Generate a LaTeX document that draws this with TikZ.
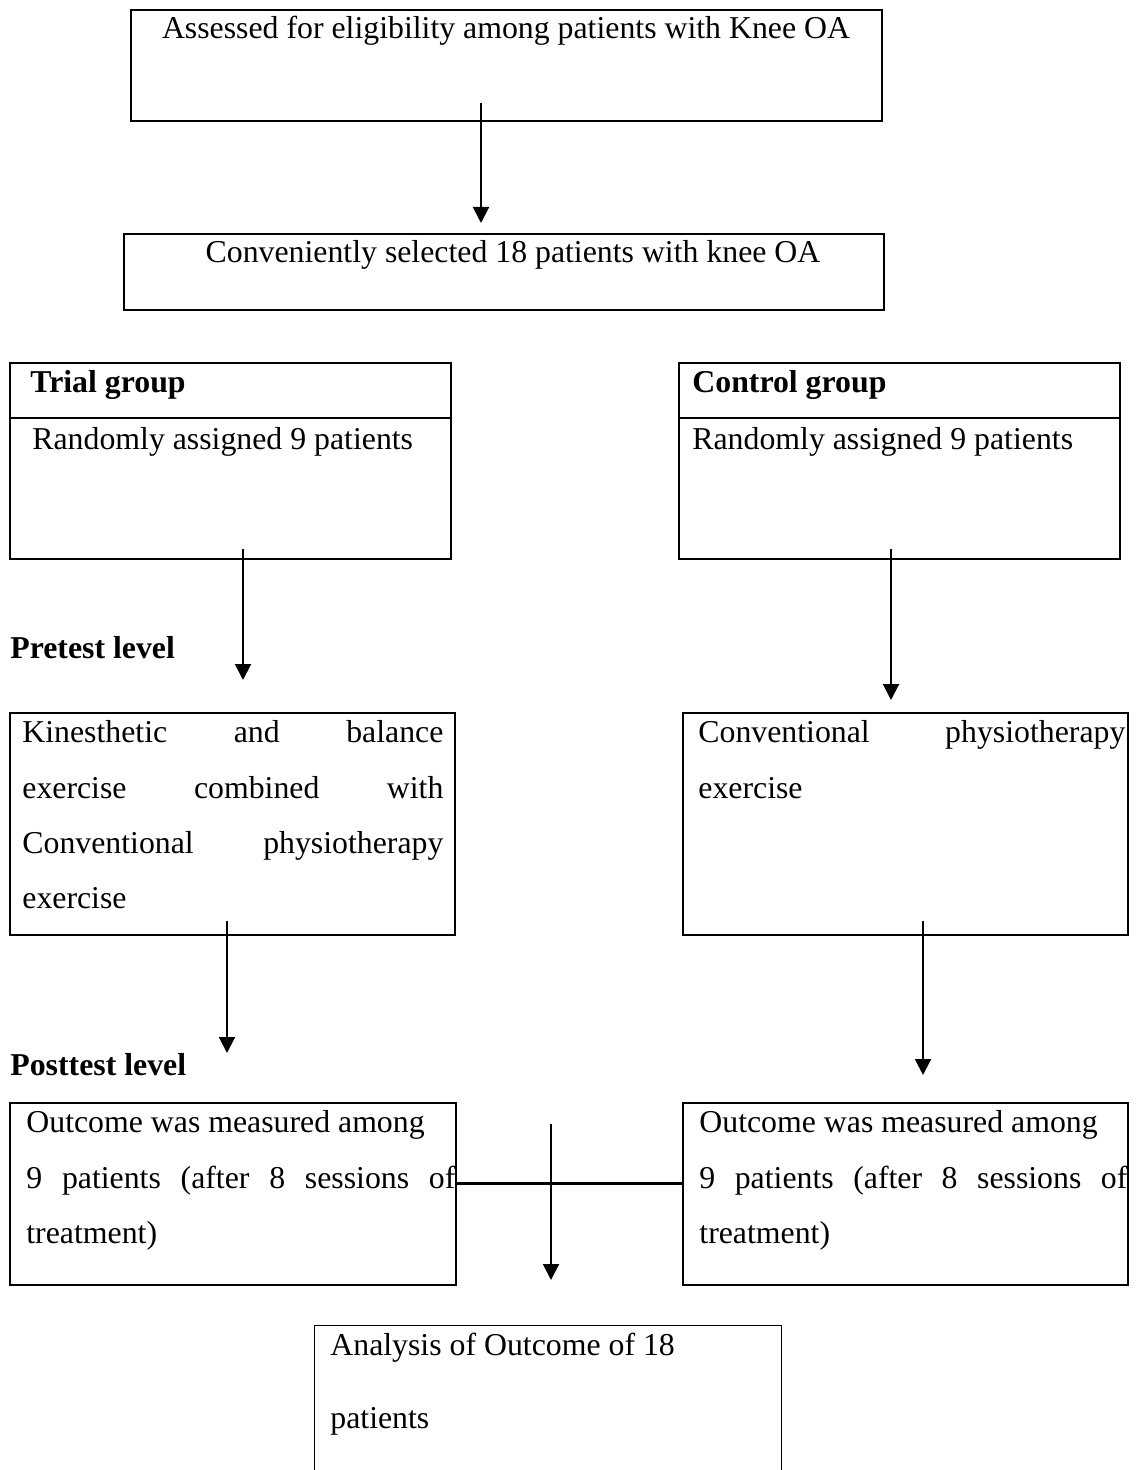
\documentclass[tikz,border=0pt]{standalone}
\usepackage{fontspec}
\setmainfont{Liberation Serif}
\usetikzlibrary{arrows.meta, positioning, fit}

\newcommand{\bodyfont}{\fontsize{15.9}{19}\selectfont}

\tikzset{
  box/.style={draw, line width=1pt, inner sep=0pt},
  thinbox/.style={draw, line width=0.6pt, inner sep=0pt},
  lbl/.style={anchor=base west, inner sep=0pt, font=\bodyfont},
  head/.style={lbl, font=\bodyfont\bfseries},
  arr/.style={line width=1pt, -{Triangle[width=8pt,length=8pt]}}
}

\begin{document}
\begin{tikzpicture}[x=0.5pt, y=-0.5pt]
\useasboundingbox (0,0) rectangle (1139,1470);

% Top boxes
\node[box, fit={(131,10) (882,121)}] (assess) {};
\node[lbl, anchor=base] (assesstxt) at (506,39) {Assessed for eligibility among patients with Knee OA};

\node[thinbox, fit={(124,234) (884,310)}] (select) {};
\node[lbl, anchor=base] (selecttxt) at (513,263) {Conveniently selected 18 patients with knee OA};

\coordinate (a1s) at (481,103);
\coordinate (a1e) at (481,223);
\draw[arr] (a1s) -- (a1e);

% Group boxes
\node[box, fit={(10,363) (451,559)}] (trial) {};
\draw[line width=1pt] (trial.west |- 0,418) -- (trial.east |- 0,418);
\node[head] (trialhd) at (30,393) {Trial group};
\node[lbl] (trialtxt) at (32,450) {Randomly assigned 9 patients};

\node[box, fit={(679,363) (1120,559)}] (ctrl) {};
\draw[line width=1pt] (ctrl.west |- 0,418) -- (ctrl.east |- 0,418);
\node[head] (ctrlhd) at (692,393) {Control group};
\node[lbl] (ctrltxt) at (692,450) {Randomly assigned 9 patients};

\node[head] (pretest) at (10,658) {Pretest level};

\coordinate (a2s) at (243,549);
\coordinate (a2e) at (243,680);
\draw[arr] (a2s) -- (a2e);
\coordinate (a3s) at (891,549);
\coordinate (a3e) at (891,700);
\draw[arr] (a3s) -- (a3e);

% Intervention boxes
\node[box, fit={(10,713) (455,935)}] (kin) {};
\node[lbl] (kin1) at (22,742) {\makebox[210.5pt][s]{Kinesthetic and balance}};
\node[lbl] (kin2) at (22,798) {\makebox[210.5pt][s]{exercise combined with}};
\node[lbl] (kin3) at (22,853) {\makebox[210.5pt][s]{Conventional physiotherapy}};
\node[lbl] (kin4) at (22,908) {exercise};

\node[box, fit={(683,713) (1128,935)}] (conv) {};
\node[lbl] (conv1) at (698,742) {\makebox[213.5pt][s]{Conventional physiotherapy}};
\node[lbl] (conv2) at (698,798) {exercise};

\coordinate (a4s) at (227,921);
\coordinate (a4e) at (227,1053);
\draw[arr] (a4s) -- (a4e);
\coordinate (a5s) at (923,921);
\coordinate (a5e) at (923,1075);
\draw[arr] (a5s) -- (a5e);

\node[head] (posttest) at (10,1075) {Posttest level};

% Outcome boxes
\node[box, fit={(10,1103) (456,1285)}] (outT) {};
\node[lbl] (outT1) at (26,1132) {Outcome was measured among};
\node[lbl] (outT2) at (26,1188) {\makebox[214.5pt][s]{9 patients (after 8 sessions of}};
\node[lbl] (outT3) at (26,1243) {treatment)};

\node[box, fit={(683,1103) (1128,1285)}] (outC) {};
\node[lbl] (outC1) at (699,1132) {Outcome was measured among};
\node[lbl] (outC2) at (699,1188) {\makebox[214pt][s]{9 patients (after 8 sessions of}};
\node[lbl] (outC3) at (699,1243) {treatment)};

\draw[line width=1.5pt] (outT.east |- 0,1183) -- (outC.west |- 0,1183);

\coordinate (a6s) at (551,1124);
\coordinate (a6e) at (551,1280);
\draw[arr] (a6s) -- (a6e);

% Analysis box, open at the page edge
\node[inner sep=0pt, fit={(315,1326) (781,1470)}] (analysis) {};
\draw[line width=0.6pt] (analysis.south west) |- (analysis.north east) -- (analysis.south east);
\node[lbl] (anl1) at (330,1355) {Analysis of Outcome of 18};
\node[lbl] (anl2) at (330,1428) {patients};
\end{tikzpicture}
\end{document}
